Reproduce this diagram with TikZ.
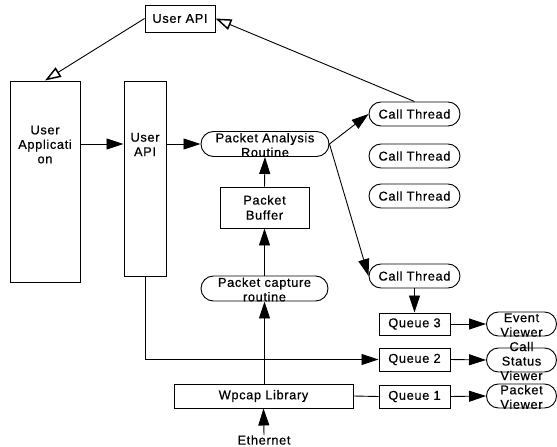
\documentclass[tikz,border=0pt]{standalone}
\usepackage{fontspec}
\setmainfont{Liberation Sans}[LetterSpace=5,FakeBold=0.6]
\usetikzlibrary{arrows.meta,shapes.misc}
\begin{document}
\begin{tikzpicture}[x=1pt,y=-1pt,
  every node/.style={font=\fontsize{12.8}{15}\selectfont, inner sep=0pt},
  box/.style={draw, line width=0.95pt, rectangle},
  pill/.style={draw, line width=0.95pt, rounded rectangle},
  txt/.style={align=center, font=\fontsize{12.8}{14.5}\selectfont},
  arr/.style={line width=0.9pt, -{Triangle[length=17pt,width=11pt]}},
  oarr/.style={line width=0.9pt, -{Triangle[open,length=16pt,width=11pt,line width=1.5pt]}},
  ln/.style={line width=0.9pt}]
\useasboundingbox (0,0) rectangle (557,447);
% boxes
\node[box, minimum width=70, minimum height=27] (topapi) at (180,18.5) {User API};
\node[box, minimum width=70, minimum height=201,
  label={[txt, yshift=37pt]center:User\\Applicati\\on}] (uapp) at (45,181.5) {};
\node[box, minimum width=42, minimum height=195,
  label={[txt, yshift=34pt]center:User\\API}] (uapi) at (145,178.5) {};
\node[pill, minimum width=128, minimum height=25,
  label={[txt, yshift=-1pt]center:Packet Analysis\\Routine}] (pa) at (265,144) {};
\node[box, minimum width=89, minimum height=41, align=center] (pb) at (264.5,207.5) {Packet\\Buffer};
\node[pill, minimum width=127, minimum height=25,
  label={[txt, yshift=-1pt]center:Packet capture\\routine}] (pc) at (264.5,288.5) {};
\node[box, minimum width=179, minimum height=24] (wp) at (263.5,396) {Wpcap Library};
\node (eth) at (264,440) {Ethernet};
% call threads
\node[pill, minimum width=91, minimum height=24] (ct1) at (414.5,114) {Call Thread};
\node[pill, minimum width=91, minimum height=24] (ct2) at (414.5,156) {Call Thread};
\node[pill, minimum width=91, minimum height=24] (ct3) at (414.5,196) {Call Thread};
\node[pill, minimum width=91, minimum height=24] (ct4) at (414.5,276) {Call Thread};
% queues
\node[box, minimum width=71, minimum height=22] (q3) at (414.5,324) {Queue 3};
\node[box, minimum width=71, minimum height=23] (q2) at (414.5,359.5) {Queue 2};
\node[box, minimum width=71, minimum height=23] (q1) at (414.5,396.5) {Queue 1};
% viewers
\node[pill, minimum width=70, minimum height=24,
  label={[txt, yshift=-1pt]center:Event\\Viewer}] (ev) at (521.5,324) {};
\node[pill, minimum width=70, minimum height=24,
  label={[txt, yshift=-1pt]center:Call\\Status\\Viewer}] (csv) at (521.5,360) {};
\node[pill, minimum width=70, minimum height=24,
  label={[txt, yshift=-1pt]center:Packet\\Viewer}] (pv) at (521.5,396) {};
% connectors
\draw[oarr] (topapi.west) -- (uapp.north);
\draw[oarr] (ct1.north) -- (topapi.east);
\draw[arr] (uapp.east |- pa.west) -- (uapi.west |- pa.west);
\draw[arr] (uapi.east |- pa.west) -- (pa.west);
\draw[arr] (pa.east) -- (ct1.west);
\draw[arr] (pa.east) -- (ct4.west);
\draw[arr] (pb.north) -- (pa.south);
\draw[arr] (pc.north) -- (pb.south);
\draw[arr] (wp.north -| pc.south) -- (pc.south);
\draw[arr] (eth.north) -- (wp.south);
\draw[arr] (uapi.south) |- (q2.west);
\draw[arr] (ct4.south) -- (q3.north);
\draw[arr] (q3.east) -- (ev.west);
\draw[arr] (q2.east) -- (csv.west);
\draw[arr] (q1.east) -- (pv.west);
\draw[ln] (wp.east) -- (q1.west);
\end{tikzpicture}
\end{document}
